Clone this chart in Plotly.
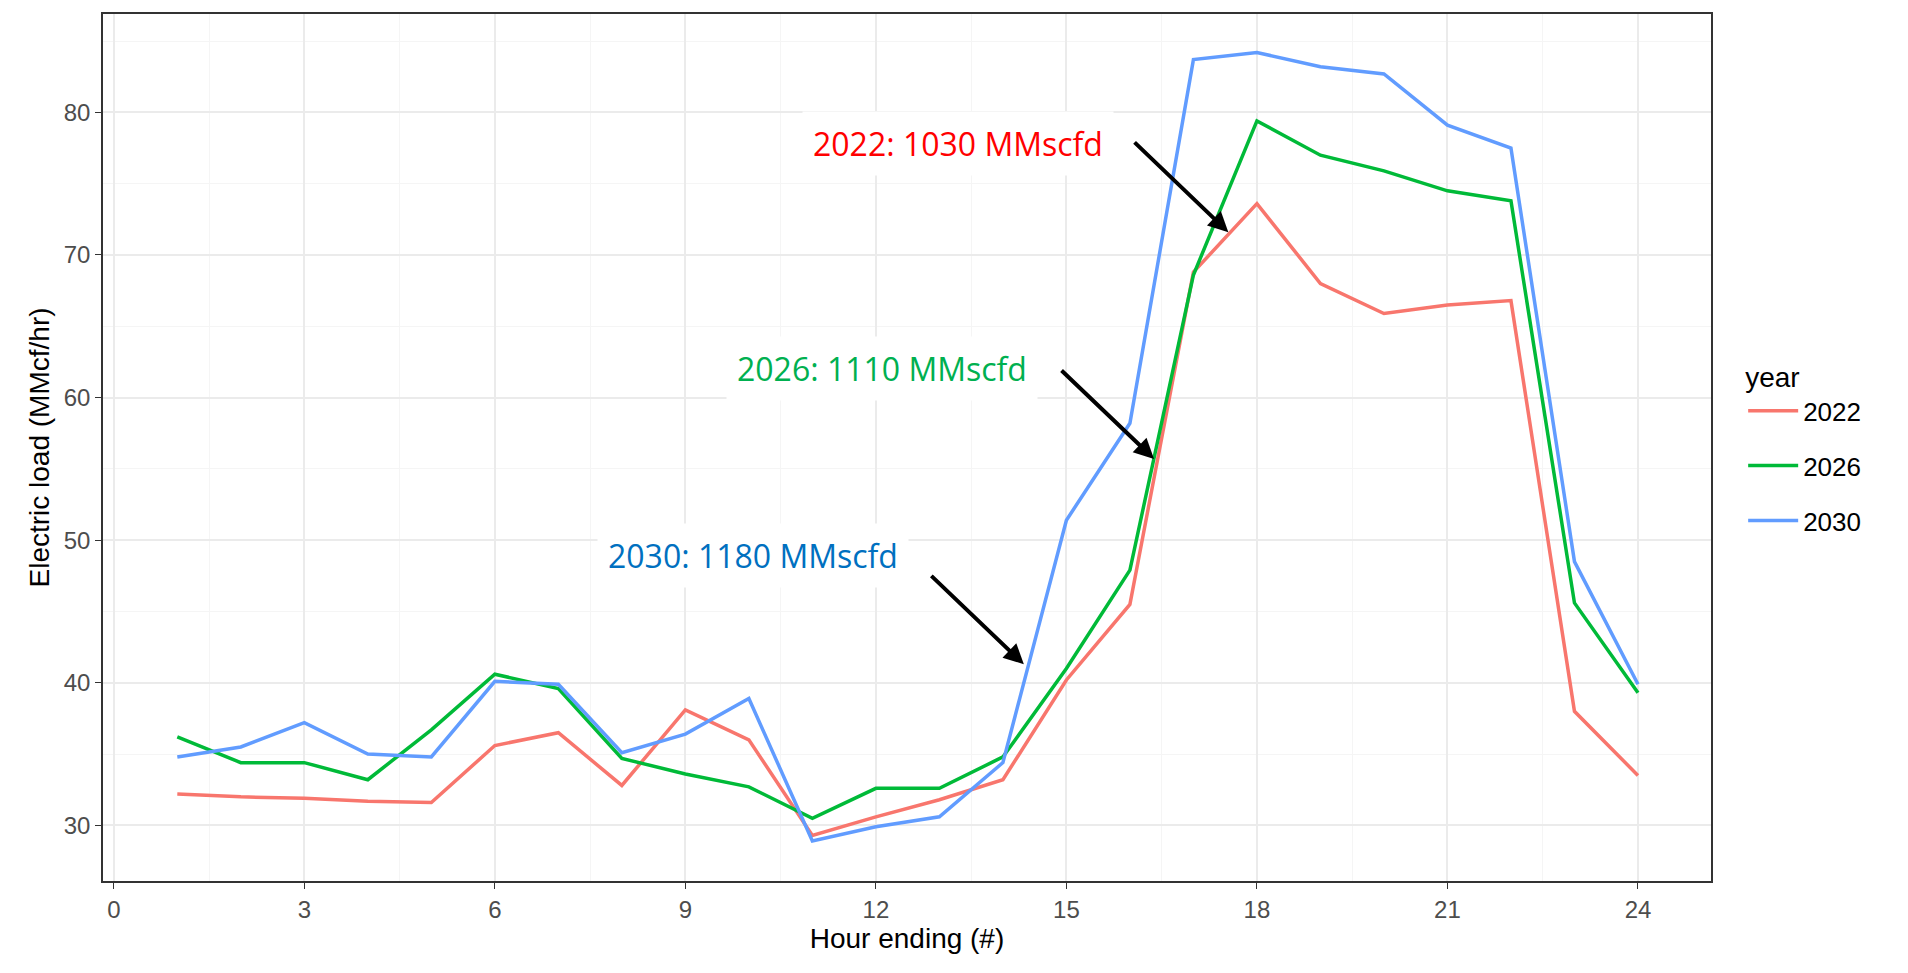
import plotly.graph_objects as go

hours = list(range(1, 25))
y2022 = [32.2, 32.0, 31.9, 31.7, 31.6, 35.6, 36.5, 32.8, 38.1, 36.0, 29.3, 30.6, 31.8, 33.2, 40.2, 45.5, 68.8, 73.6, 68.0, 65.9, 66.5, 66.8, 38.0, 33.5]
y2026 = [36.2, 34.4, 34.4, 33.2, 36.7, 40.6, 39.6, 34.7, 33.6, 32.7, 30.5, 32.6, 32.6, 34.8, 41.0, 47.9, 68.6, 79.4, 77.0, 75.9, 74.5, 73.8, 45.6, 39.3]
y2030 = [34.8, 35.5, 37.2, 35.0, 34.8, 40.1, 39.9, 35.1, 36.4, 38.9, 28.9, 29.9, 30.6, 34.4, 51.4, 58.2, 83.7, 84.2, 83.2, 82.7, 79.1, 77.5, 48.5, 39.9]
series = [("2022", y2022, "#F8766D"), ("2026", y2026, "#00BA38"), ("2030", y2030, "#619CFF")]

labels = [
    ("2022: 1030 MMscfd", 13.3, 77.8, 16.05, 78.0, 17.55, 71.6, "#FF0000"),
    ("2026: 1110 MMscfd", 12.09, 62.06, 14.9, 62.0, 16.38, 55.7, "#00B050"),
    ("2030: 1180 MMscfd", 10.06, 48.9, 12.85, 47.6, 14.33, 41.3, "#0070C0"),
]

fig = go.Figure()
for name, ys, c in series:
    fig.add_trace(go.Scatter(x=hours, y=ys, mode="lines", name=name, legendgroup=name, line=dict(color=c, width=3.5)))

for txt, tx, ty, x0, y0, x1, y1, c in labels:
    fig.add_annotation(x=tx, y=ty, text=txt, showarrow=False, font=dict(size=32, color=c, family="Open Sans"),
                       bgcolor="white", borderpad=10)
    fig.add_annotation(x=x1, y=y1, ax=x0, ay=y0, axref="x", ayref="y", xref="x", yref="y", text="",
                       showarrow=True, arrowhead=2, arrowsize=1, arrowwidth=4, arrowcolor="black")

fig.update_layout(
    width=1908, height=973, plot_bgcolor="white", paper_bgcolor="white",
    margin=dict(l=95, r=205, t=4, b=100),
    font=dict(family="Liberation Sans, Arial", size=24, color="#4D4D4D"),
    legend=dict(title=dict(text="year  ", font=dict(size=28, color="black")), font=dict(size=26, color="black"),
                x=1.02, y=0.5, yanchor="middle", xanchor="left", itemwidth=50, tracegroupgap=18),
)
fig.update_xaxes(range=[-0.17, 25.15], tickvals=list(range(0, 25, 3)), showgrid=True, gridcolor="#EBEBEB", gridwidth=1.5,
                 minor=dict(dtick=1.5, tick0=0, showgrid=True, gridcolor="#F5F5F5", gridwidth=1),
                 ticks="outside", ticklen=6, tickcolor="#333", tickfont=dict(size=24),
                 showline=True, linecolor="#333", mirror=True, linewidth=1.5, zeroline=False,
                 title=dict(text="Hour ending (#)", font=dict(size=28, color="black"), standoff=6))
fig.update_yaxes(range=[26.1, 86.9], tickvals=[30, 40, 50, 60, 70, 80], showgrid=True, gridcolor="#EBEBEB", gridwidth=1.5,
                 minor=dict(dtick=5, tick0=25, showgrid=True, gridcolor="#F5F5F5", gridwidth=1),
                 ticks="outside", ticklen=6, tickcolor="#333", tickfont=dict(size=24),
                 showline=True, linecolor="#333", mirror=True, linewidth=1.5, zeroline=False,
                 title=dict(text="Electric load (MMcf/hr)", font=dict(size=28, color="black"), standoff=6))
fig.write_html("out.html")
